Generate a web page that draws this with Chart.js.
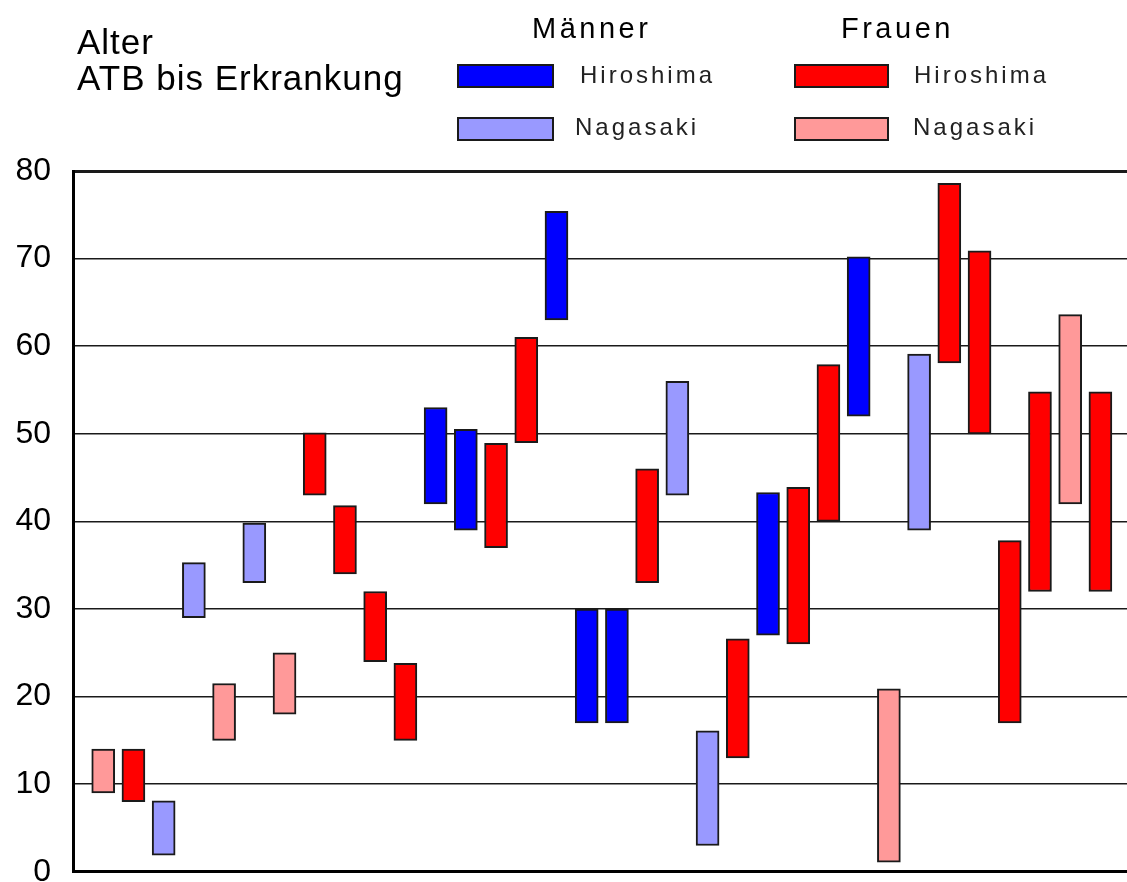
<!DOCTYPE html>
<html>
<head>
<meta charset="utf-8">
<script src="https://cdn.jsdelivr.net/npm/chart.js@4/dist/chart.umd.min.js"></script>
<style>
  html, body { margin: 0; padding: 0; overflow: hidden; background: #fff; }
  #wrap { position: relative; width: 1127px; height: 882px; overflow: hidden; }
  #chart { position: absolute; left: 0; top: 0; }
  .t { position: absolute; font-family: Arial, "Liberation Sans", sans-serif; line-height: 1; white-space: nowrap; color: #000; }
  .big { font-size: 35px; letter-spacing: 1px; }
  .head { font-size: 29px; letter-spacing: 3.5px; }
  .city { font-size: 24px; letter-spacing: 3px; color: #222; }
  .sw { position: absolute; box-sizing: border-box; border: 2px solid #1a1a1a; height: 24px; }
</style>
</head>
<body>
<div id="wrap">
  <canvas id="chart" width="1127" height="913"></canvas>
  <div class="t big" style="left:77px;top:24px">Alter</div>
  <div class="t big" style="left:77px;top:60px">ATB bis Erkrankung</div>
  <div class="t head" style="left:532px;top:14px">Männer</div>
  <div class="t head" style="left:841px;top:14px">Frauen</div>
  <div class="sw" style="left:457px;top:64px;width:97px;background:#0000ff"></div>
  <div class="sw" style="left:457px;top:117px;width:97px;background:#9999ff"></div>
  <div class="sw" style="left:794px;top:64px;width:95px;background:#ff0000"></div>
  <div class="sw" style="left:794px;top:117px;width:95px;background:#ff9999"></div>
  <div class="t city" style="left:580px;top:63px">Hiroshima</div>
  <div class="t city" style="left:575px;top:115px">Nagasaki</div>
  <div class="t city" style="left:914px;top:63px">Hiroshima</div>
  <div class="t city" style="left:913px;top:115px">Nagasaki</div>
</div>
<script>
(function () {
  "use strict";

  // y axis: age in years
  var yMin = 0;
  var yMax = 80;
  var yStep = 10;

  // case positions (1..34, left to right) and age ranges per group
  var menHiroshimaCase = [12, 13, 16, 17, 18, 23, 26];
  var menHiroshimaFrom = [42, 39, 63, 17, 17, 27, 52];
  var menHiroshimaTo = [53, 50.5, 75.4, 30, 30, 43.3, 70.2];

  var menNagasakiCase = [3, 4, 6, 20, 21, 28];
  var menNagasakiFrom = [1.9, 29, 33, 43, 3, 39];
  var menNagasakiTo = [8.1, 35.3, 39.8, 56, 16.1, 59.1];

  var womenHiroshimaCase = [2, 8, 9, 10, 11, 14, 15, 19, 22, 24, 25, 29, 30, 31, 32, 34];
  var womenHiroshimaFrom = [8, 43, 34, 24, 15, 37, 49, 33, 13, 26, 40, 58.1, 50, 17, 32, 32];
  var womenHiroshimaTo = [14, 50.1, 41.8, 32, 23.8, 48.9, 61, 46, 26.6, 43.9, 57.9, 78.6, 70.9, 37.8, 54.8, 54.8];

  var womenNagasakiCase = [1, 5, 7, 27, 33];
  var womenNagasakiFrom = [9, 15, 18, 1.1, 42];
  var womenNagasakiTo = [14, 21.5, 25, 20.9, 63.6];

  function toPoints(cases, from, to) {
    return cases.map(function (c, i) {
      return { x: c, y: [from[i], to[i]] };
    });
  }

  function series(label, color, cases, from, to) {
    return {
      label: label,
      data: toPoints(cases, from, to),
      backgroundColor: color,
      borderColor: "#1a1a1a",
      borderWidth: 2,
      borderSkipped: false,
      barThickness: 23,
      grouped: false
    };
  }

  new Chart(document.getElementById("chart"), {
    type: "bar",
    data: {
      datasets: [
        series("Männer Hiroshima", "#0000ff", menHiroshimaCase, menHiroshimaFrom, menHiroshimaTo),
        series("Männer Nagasaki", "#9999ff", menNagasakiCase, menNagasakiFrom, menNagasakiTo),
        series("Frauen Hiroshima", "#ff0000", womenHiroshimaCase, womenHiroshimaFrom, womenHiroshimaTo),
        series("Frauen Nagasaki", "#ff9999", womenNagasakiCase, womenNagasakiFrom, womenNagasakiTo)
      ]
    },
    options: {
      responsive: false,
      animation: false,
      layout: { padding: { top: 171, right: 0, bottom: 29, left: 0 } },
      plugins: { legend: { display: false }, tooltip: { enabled: false } },
      scales: {
        x: {
          type: "linear",
          min: 0,
          max: 34.88,
          offset: false,
          ticks: { display: false },
          grid: { display: false, drawTicks: false },
          border: { display: true, color: "#000", width: 3 }
        },
        y: {
          min: yMin,
          max: yMax,
          z: 1,
          afterFit: function (scale) { scale.width = 73; },
          ticks: {
            stepSize: yStep,
            padding: 22,
            color: "#000",
            font: { family: "Arial, 'Liberation Sans', sans-serif", size: 32 }
          },
          grid: {
            drawTicks: false,
            color: "#1a1a1a",
            lineWidth: function (ctx) {
              if (ctx.tick && ctx.tick.value === yMax) return 3;
              if (ctx.tick && ctx.tick.value === yMin) return 0;
              return 1.5;
            }
          },
          border: { display: true, color: "#000", width: 3 }
        }
      }
    }
  });
})();
</script>
</body>
</html>
